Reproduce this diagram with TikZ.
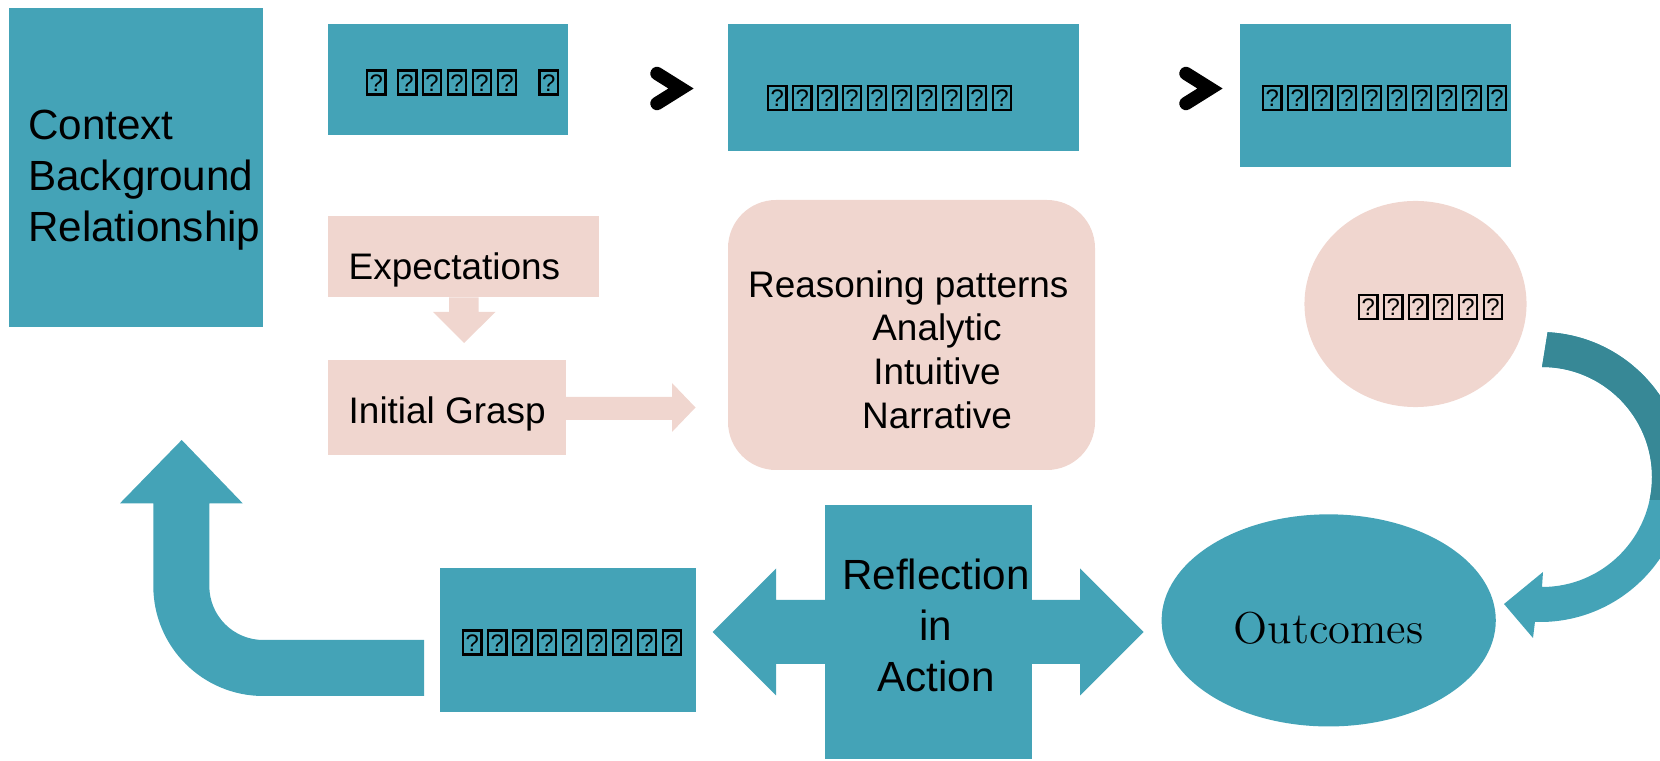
\documentclass[tikz,border=0pt]{standalone}
\usepackage{fontspec}
\usepackage{tikz}
\usetikzlibrary{arrows,fit,shapes.geometric}
\newfontfamily\arialf{Liberation Sans}
\definecolor{tealA}{HTML}{44A3B7}
\definecolor{tealB}{HTML}{378896}
\definecolor{pinkA}{HTML}{F0D6CF}
\newcommand{\qbox}{\kern0.6pt\raisebox{-0.9pt}{\setlength{\fboxsep}{0pt}\setlength{\fboxrule}{0.65pt}\fbox{\makebox[4.6pt]{\rule{0pt}{6.2pt}\raisebox{0.6pt}{\fontsize{6.8}{6.8}\selectfont ?}}}}\kern0.6pt}
\newcommand{\loopshape}{(1547.6,332.2) arc[start angle=-87,end angle=92,radius=145] -- (1533,638) -- (1504,604) -- (1543,572) -- (1542,587) arc[start angle=90,end angle=-90,radius=110] -- cycle}

\begin{document}
\begin{tikzpicture}[x=0.01cm,y=-0.01cm,
	tbox/.style={fill=tealA,inner sep=0},
	pbox/.style={fill=pinkA,inner sep=0},
	bigtxt/.style={font=\arialf\fontsize{12}{14.5}\selectfont,inner sep=0},
	smalltxt/.style={font=\arialf\fontsize{10.5}{12.4}\selectfont,inner sep=0},
	qtext/.style={font=\arialf\fontsize{10}{12}\selectfont,inner sep=0,anchor=west},
	chev/.style={line width=3.8pt,line cap=round,line join=miter}]
	\path[use as bounding box,clip] (0,0) rectangle (1660,761);
	% top row
	\node[tbox,fit={(8.5,8.5) (262.5,327)}] (ctx) {};
	\node[bigtxt,anchor=west,align=left] (ctxtxt) at (27.5,180.5) {Context\\Background\\Relationship};
	\node[tbox,fit={(328,24) (567.5,135.5)}] (top1) {};
	\node[qtext] (top1txt) at (363,82.6) {\qbox\hspace{1.7pt}\qbox\qbox\qbox\qbox\qbox\hspace{4.8pt}\qbox};
	\draw[chev] (657,73.5) -- (681,88.5) -- (657,103.5);
	\node[tbox,fit={(728,24) (1079,151)}] (top2) {};
	\node[qtext] (top2txt) at (764,98) {\qbox\qbox\qbox\qbox\qbox\qbox\qbox\qbox\qbox\qbox};
	\draw[chev] (1186,73.5) -- (1210,88.5) -- (1186,103.5);
	\node[tbox,fit={(1240,24) (1511,167)}] (top3) {};
	\node[qtext] (top3txt) at (1259,98) {\qbox\qbox\qbox\qbox\qbox\qbox\qbox\qbox\qbox\qbox};
	% middle row
	\node[pbox,fit={(328,216) (599,297.5)}] (expect) {};
	\node[smalltxt,anchor=west] (expecttxt) at (348,270) {Expectations};
	\fill[pinkA] (449,297.5) -- (478.5,297.5) -- (478.5,312) -- (495.5,312) -- (464,343) -- (433,312) -- (449,312) -- cycle;
	\node[pbox,fit={(328,360) (566,455)}] (grasp) {};
	\node[smalltxt,anchor=west] (grasptxt) at (348,414) {Initial Grasp};
	\fill[pinkA] (566,397) -- (672,397) -- (672,383) -- (695.5,407.5) -- (672,432) -- (672,420) -- (566,420) -- cycle;
	\node[pbox,rounded corners=0.48cm,fit={(728,200) (1095,470)}] (reason) {};
	\node[smalltxt,anchor=west,align=left] (reasontxt) at (747.5,349.5) {Reasoning patterns\\\hspace*{35.3pt}Analytic\\\hspace*{35.6pt}Intuitive\\\hspace*{32.4pt}Narrative};
	\node[pbox,ellipse,minimum width=2.22cm,minimum height=2.06cm] (ell) at (1415.5,304) {};
	\node[qtext] (elltxt) at (1355,307) {\qbox\qbox\qbox\qbox\qbox\qbox};
	% bottom row
	\fill[tealA] (181.7,440) -- (242.7,503.3) -- (209.3,503.3) -- (209.3,586) arc[start angle=180,end angle=90,radius=54] -- (424,640) -- (424,696) -- (263.3,696) arc[start angle=90,end angle=180,radius=110] -- (153.3,503.3) -- (120,503.3) -- cycle;
	\node[tbox,fit={(440,568.5) (695.5,711.5)}] (review) {};
	\node[qtext] (reviewtxt) at (459,642.6) {\qbox\qbox\qbox\qbox\qbox\qbox\qbox\qbox\qbox};
	\fill[tealA] (712.5,632) -- (776,568.5) -- (776,600) -- (1080,600) -- (1080,568.5) -- (1143.5,632) -- (1080,695.5) -- (1080,664) -- (776,664) -- (776,695.5) -- cycle;
	\node[tbox,fit={(824.7,505) (1032,759)}] (refl) {};
	\node[bigtxt,align=center] (refltxt) at (936,625) {Reflection\\in\\Action};
	\node[tbox,ellipse,minimum width=3.34cm,minimum height=2.12cm] (out) at (1328.7,620.4) {};
	\node[font=\fontsize{12.7}{15}\selectfont,inner sep=0] (outtxt) at (1328.7,628) {Outcomes};
	% turning arrow
	\fill[tealA] \loopshape;
	\begin{scope}
		\clip (1400,300) rectangle (1700,500);
		\fill[tealB] \loopshape;
	\end{scope}
\end{tikzpicture}
\end{document}
